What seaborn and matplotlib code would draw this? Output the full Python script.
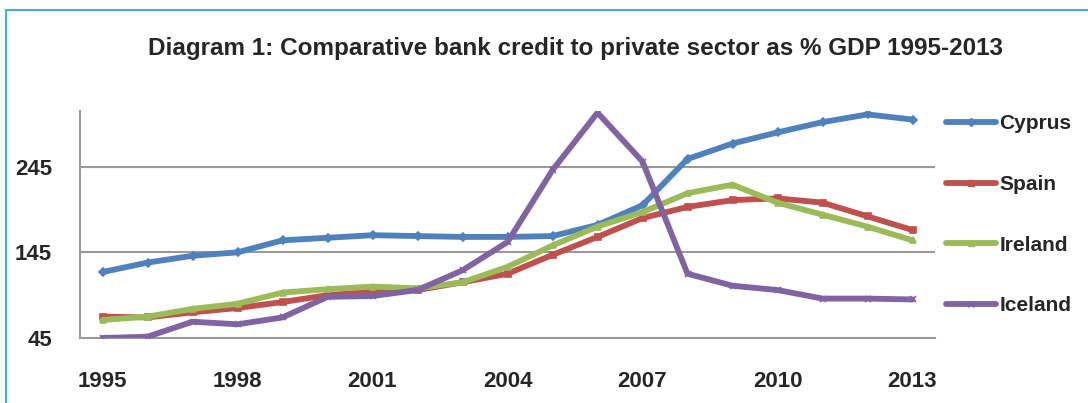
import numpy as np
import pandas as pd
import matplotlib
matplotlib.use("Agg")
import matplotlib.pyplot as plt
import seaborn as sns
from matplotlib.lines import Line2D

years = list(range(1995, 2014))
cyprus = [122, 133, 141, 145, 159, 162, 165, 164, 163, 163, 164, 177, 200, 254, 272, 285, 297, 306, 300]
spain = [70, 69, 75, 80, 87, 95, 99, 101, 110, 120, 142, 163, 185, 198, 206, 208, 203, 187, 171]
ireland = [66, 70, 79, 85, 98, 102, 105, 103, 110, 128, 153, 175, 192, 214, 224, 203, 189, 175, 159]
iceland = [45, 46.5, 64, 61, 69, 93, 94, 101, 124, 157, 241, 308, 251, 120, 106, 101, 91, 91, 90]
countries = ["Cyprus", "Spain", "Ireland", "Iceland"]
colors = ["#4F81BD", "#C0504D", "#9BBB59", "#8064A2"]
markers = ["D", "s", "^", "x"]
y_ticks = [45, 145, 245]
x_tick_labels = [1995, 1998, 2001, 2004, 2007, 2010, 2013]
title = "Diagram 1: Comparative bank credit to private sector as % GDP 1995-2013"

sns.set_style("white")
plt.rcParams["font.family"] = ["Liberation Sans", "DejaVu Sans"]

df = pd.DataFrame({
    "year": years * 4,
    "value": cyprus + spain + ireland + iceland,
    "country": sum([[c] * len(years) for c in countries], []),
})

fig = plt.figure(figsize=(10.88, 4.03), dpi=100)
ax = fig.add_axes([80 / 1088, 1 - 338 / 403, (935 - 80) / 1088, (338 - 111) / 403])

for c, col, m in zip(countries, colors, markers):
    sub = df[df["country"] == c]
    sns.lineplot(data=sub, x="year", y="value", color=col, linewidth=4.2,
                 marker=m, markersize=4, markeredgecolor=col, markeredgewidth=1.2,
                 ax=ax, legend=False, zorder=3)

ax.set_xlim(1994.5, 2013.5)
ax.set_ylim(45, 310)
ax.set_yticks(y_ticks)
ax.set_yticklabels([str(v) for v in y_ticks], fontsize=16, fontweight="bold")
ax.set_xticks(x_tick_labels)
ax.set_xticklabels([str(v) for v in x_tick_labels], fontsize=16, fontweight="bold")
ax.set_xticks(np.arange(1994.5, 2014, 1.0), minor=True)
ax.tick_params(axis="x", which="major", length=0, pad=24)
ax.tick_params(axis="x", which="minor", length=7, width=1.5, color="#999999", direction="out")
ax.tick_params(axis="y", which="major", length=6, width=1.5, color="#999999", direction="out", pad=14)
ax.set_xlabel("")
ax.set_ylabel("")
ax.grid(False)
for yv in y_ticks[1:]:
    ax.axhline(yv, color="#999999", linewidth=1.5, zorder=1)
for s in ["top", "right"]:
    ax.spines[s].set_visible(False)
for s in ["left", "bottom"]:
    ax.spines[s].set_color("#999999")
    ax.spines[s].set_linewidth(1.5)

handles = [Line2D([0], [0], color=col, linewidth=4.2, marker=m, markersize=4,
                  markeredgecolor=col) for col, m in zip(colors, markers)]
leg = fig.legend(handles, countries, loc="upper left", bbox_to_anchor=(938 / 1088, 1 - 106 / 403),
                 frameon=False, handlelength=2.4, handletextpad=0.15, labelspacing=2.0,
                 borderaxespad=0, borderpad=0.4,
                 prop={"size": 15, "weight": "bold"})

fig.text(575 / 1088, 1 - 48 / 403, title, ha="center", va="center", fontsize=17.5, fontweight="bold")

# outer cyan frame (left and top edges)
fig.add_artist(Line2D([6 / 1088, 6 / 1088], [0, 1 - 10 / 403], transform=fig.transFigure,
                      color="#41B6C8", linewidth=1.5))
fig.add_artist(Line2D([6 / 1088, 1], [1 - 10 / 403, 1 - 10 / 403], transform=fig.transFigure,
                      color="#41B6C8", linewidth=1.5))

fig.savefig("out.png", dpi=100)
